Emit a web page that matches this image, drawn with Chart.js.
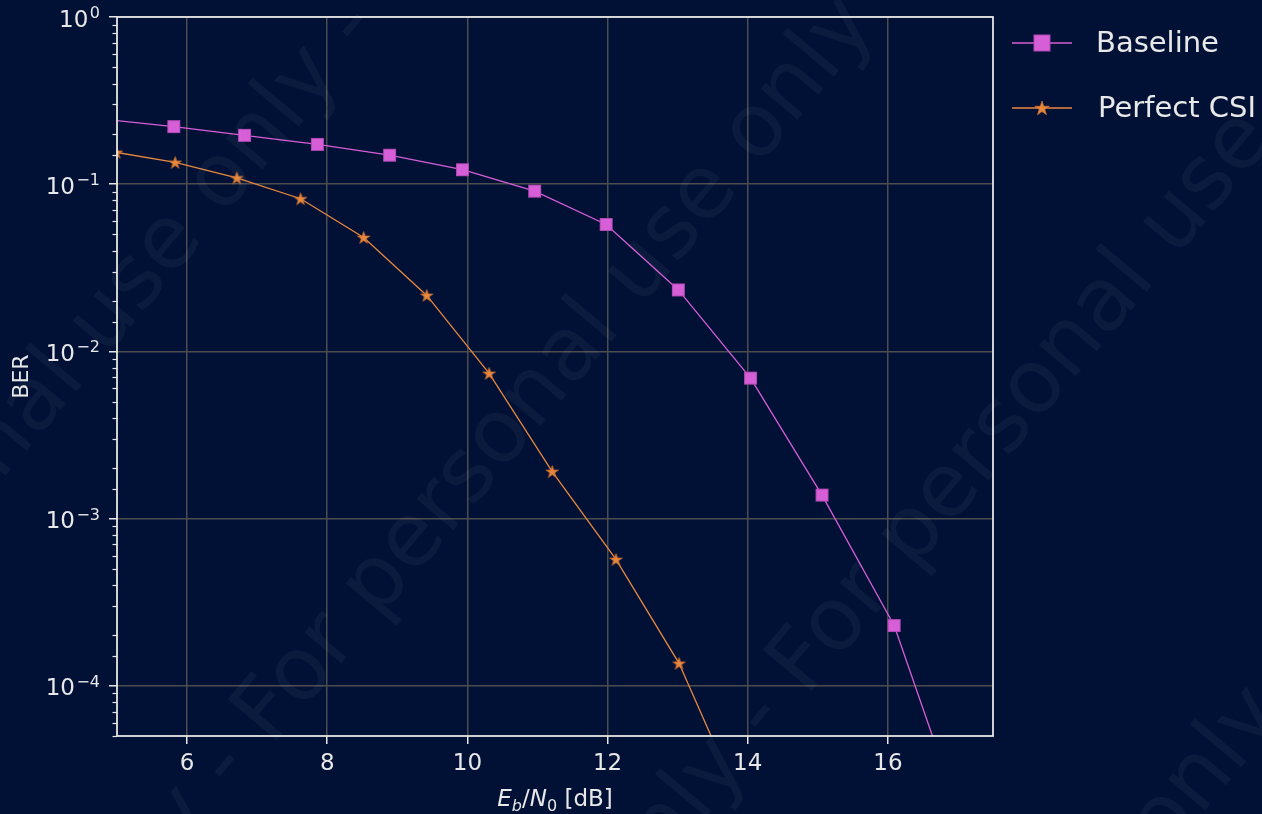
<!DOCTYPE html>
<html>
<head>
<meta charset="utf-8">
<title>BER</title>
<script src="https://cdn.jsdelivr.net/npm/chart.js@4.4.0/dist/chart.umd.min.js"></script>
<style>
    html, body { margin: 0; padding: 0; background: #011136; }
    canvas { display: block; }
</style>
</head>
<body>
<canvas id="graficaBer" width="1262" height="814"></canvas>
<script>
// Datos
const ebnoBaseline = [4.78, 5.81, 6.82, 7.86, 8.89, 9.93, 10.96, 11.98, 13.01, 14.04, 15.06, 16.09, 17.12];
const berBaseline = [0.245, 0.221, 0.196, 0.173, 0.149, 0.122, 0.0908, 0.0574, 0.0233, 0.00691, 0.00138, 0.000229, 0.000013];

const ebnoCsi = [4.99, 5.83, 6.71, 7.62, 8.52, 9.42, 10.31, 11.21, 12.12, 13.02, 13.92];
const berCsi = [0.155, 0.135, 0.109, 0.0818, 0.048, 0.0216, 0.00738, 0.00191, 0.000569, 0.000136, 0.000019];

const seriesNames = ["Baseline", "Perfect CSI"];
const xTicks = [6, 8, 10, 12, 14, 16];

// Colores
const fondo = "#011136";
const rosa = "#d65ed6";
const naranja = "#e8883f";
const texto = "#e8e8e8";
const ejes = "#e6e6e6";
const rejilla = "#4d4d4d";
const fuente = "'DejaVu Sans', sans-serif";

function isMajor(v) {
    const l = Math.log10(v);
    return Math.abs(l - Math.round(l)) < 1e-9;
}

// Marcadores
function cuadrado(size, fill, edge) {
    const c = document.createElement("canvas");
    c.width = size + 2;
    c.height = size + 2;
    const g = c.getContext("2d");
    g.fillStyle = fill;
    g.fillRect(1, 1, size, size);
    g.strokeStyle = edge;
    g.lineWidth = 1;
    g.strokeRect(1.5, 1.5, size - 1, size - 1);
    return c;
}

function estrella(r, fill, edge) {
    const s = Math.ceil(2 * r + 4);
    const c = document.createElement("canvas");
    c.width = s;
    c.height = s;
    const g = c.getContext("2d");
    g.beginPath();
    for (let i = 0; i < 10; i++) {
        const a = -Math.PI / 2 + i * Math.PI / 5;
        const rad = i % 2 === 0 ? r : r * 0.382;
        g.lineTo(s / 2 + rad * Math.cos(a), s / 2 + 0.6 + rad * Math.sin(a));
    }
    g.closePath();
    g.fillStyle = fill;
    g.fill();
    g.strokeStyle = edge;
    g.lineWidth = 0.8;
    g.stroke();
    return c;
}

const cuadroPlot = cuadrado(13, rosa, "#b049b4");
const cuadroLeyenda = cuadrado(17, rosa, "#b049b4");
const estrellaPlot = estrella(6.5, naranja, "#c86f30");
const estrellaLeyenda = estrella(7.6, naranja, "#c86f30");

// Plugins
const fondoPlugin = {
    id: "fondo",
    beforeDraw(chart) {
        const c = chart.ctx;
        c.save();
        c.fillStyle = fondo;
        c.fillRect(0, 0, chart.width, chart.height);
        c.restore();
    }
};

const marcoPlugin = {
    id: "marco",
    afterDatasetsDraw(chart) {
        const a = chart.chartArea;
        const c = chart.ctx;
        c.save();
        c.strokeStyle = ejes;
        c.lineWidth = 1.8;
        c.strokeRect(a.left, a.top, a.right - a.left, a.bottom - a.top);

        // ticks menores y etiquetas del eje y
        const y = chart.scales.y;
        c.lineWidth = 1.2;
        c.fillStyle = texto;
        c.textBaseline = "alphabetic";
        y.ticks.forEach(t => {
            const py = y.getPixelForValue(t.value);
            if (!isMajor(t.value)) {
                const p = Math.round(py) + 0.5;
                c.beginPath();
                c.moveTo(a.left - 4.5, p);
                c.lineTo(a.left, p);
                c.stroke();
                return;
            }
            const e = Math.round(Math.log10(t.value));
            const exp = e < 0 ? "\u2212" + (-e) : String(e);
            c.font = "16px " + fuente;
            const we = c.measureText(exp).width;
            c.textAlign = "right";
            c.fillText(exp, 100, py + 1);
            c.font = "23px " + fuente;
            c.fillText("10", 100 - we - 1.5, py + 9.8);
        });
        c.restore();
    }
};

const tituloXPlugin = {
    id: "tituloX",
    afterDraw(chart) {
        const a = chart.chartArea;
        const c = chart.ctx;
        const partes = [
            { t: "E", f: "italic 23px " + fuente, dy: 0 },
            { t: "b", f: "italic 16px " + fuente, dy: 5 },
            { t: "/", f: "23px " + fuente, dy: 0 },
            { t: "N", f: "italic 23px " + fuente, dy: 0 },
            { t: "0", f: "16px " + fuente, dy: 5 },
            { t: " [dB]", f: "23px " + fuente, dy: 0 }
        ];
        c.save();
        c.fillStyle = texto;
        c.textBaseline = "alphabetic";
        let total = 0;
        partes.forEach(p => { c.font = p.f; p.w = c.measureText(p.t).width; total += p.w; });
        let x = (a.left + a.right) / 2 - total / 2;
        const base = 806;
        partes.forEach(p => {
            c.font = p.f;
            c.fillText(p.t, x, base + p.dy);
            x += p.w;
        });
        c.restore();
    }
};

const leyendaPlugin = {
    id: "leyenda",
    afterDraw(chart) {
        const c = chart.ctx;
        const items = [
            { name: seriesNames[0], color: rosa, img: cuadroLeyenda, y: 43, tx: 1096 },
            { name: seriesNames[1], color: naranja, img: estrellaLeyenda, y: 108, tx: 1098 }
        ];
        c.save();
        items.forEach(it => {
            c.strokeStyle = it.color;
            c.lineWidth = 1.4;
            c.beginPath();
            c.moveTo(1012, it.y);
            c.lineTo(1072, it.y);
            c.stroke();
            c.drawImage(it.img, 1042 - it.img.width / 2, it.y - it.img.height / 2);
            c.fillStyle = texto;
            c.font = "29px " + fuente;
            c.textBaseline = "middle";
            c.fillText(it.name, it.tx, it.y + 1);
        });
        c.restore();
    }
};

const marcaAguaPlugin = {
    id: "marcaAgua",
    afterDraw(chart) {
        const c = chart.ctx;
        const frase = "For personal use only - ";
        c.save();
        c.font = "88px " + fuente;
        c.fillStyle = "rgba(255, 255, 255, 0.045)";
        c.textBaseline = "alphabetic";
        const periodo = c.measureText(frase).width;
        c.rotate(-50 * Math.PI / 180);
        for (let k = -1; k <= 5; k++) {
            const v = 310 + 378 * k;
            const u = -780 + 382 * k - 4 * periodo;
            c.fillText(frase.repeat(9), u, v);
        }
        c.restore();
    }
};

// Grafica
const ctx = document.getElementById("graficaBer");

new Chart(ctx, {
    type: "line",
    data: {
        datasets: [
            {
                label: seriesNames[0],
                data: ebnoBaseline.map((x, i) => ({ x: x, y: berBaseline[i] })),
                borderColor: rosa,
                borderWidth: 1.3,
                pointStyle: cuadroPlot,
                pointRadius: 7,
                tension: 0,
                fill: false,
                clip: 0
            },
            {
                label: seriesNames[1],
                data: ebnoCsi.map((x, i) => ({ x: x, y: berCsi[i] })),
                borderColor: naranja,
                borderWidth: 1.3,
                pointStyle: estrellaPlot,
                pointRadius: 6,
                tension: 0,
                fill: false,
                clip: 0
            }
        ]
    },
    options: {
        responsive: false,
        animation: false,
        events: [],
        layout: {
            padding: { left: 0, top: 17, right: 269, bottom: 0 }
        },
        plugins: {
            legend: { display: false },
            tooltip: { enabled: false }
        },
        scales: {
            x: {
                type: "linear",
                min: 5,
                max: 17.5,
                afterBuildTicks: s => { s.ticks = xTicks.map(v => ({ value: v })); },
                afterFit: s => { s.height = 78; s.paddingLeft = 0; s.paddingRight = 0; },
                border: { display: false },
                grid: {
                    color: rejilla,
                    lineWidth: 1.5,
                    tickColor: ejes,
                    tickLength: 8,
                    tickWidth: 1.5
                },
                ticks: {
                    color: texto,
                    font: { family: fuente, size: 23 },
                    padding: 6,
                    maxRotation: 0,
                    autoSkip: false
                }
            },
            y: {
                type: "logarithmic",
                min: 5e-5,
                max: 1,
                afterFit: s => { s.width = 117; s.paddingTop = 0; s.paddingBottom = 0; },
                border: { display: false },
                grid: {
                    color: c => isMajor(c.tick.value) ? rejilla : "rgba(0,0,0,0)",
                    lineWidth: 1.5,
                    tickColor: c => isMajor(c.tick.value) ? ejes : "rgba(0,0,0,0)",
                    tickLength: 8,
                    tickWidth: 1.5
                },
                ticks: {
                    display: false,
                    autoSkip: false
                },
                title: {
                    display: true,
                    text: "BER",
                    color: texto,
                    font: { family: fuente, size: 22 },
                    padding: { top: 9, bottom: 0 }
                }
            }
        }
    },
    plugins: [fondoPlugin, marcoPlugin, tituloXPlugin, leyendaPlugin, marcaAguaPlugin]
});
</script>
</body>
</html>
